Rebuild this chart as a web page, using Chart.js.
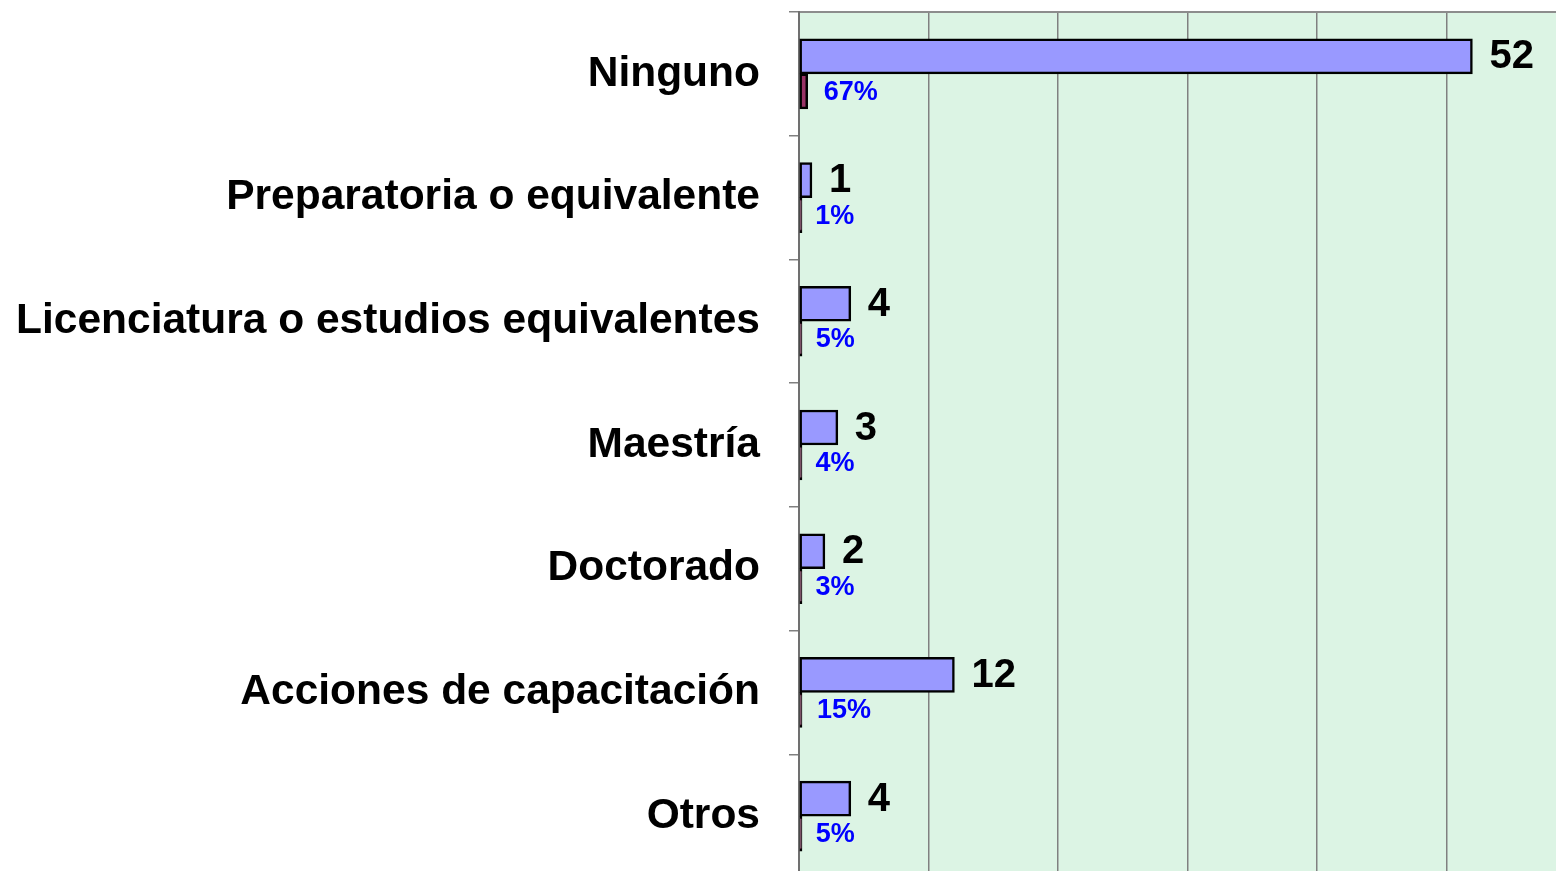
<!DOCTYPE html>
<html>
<head>
<meta charset="utf-8">
<script src="https://cdn.jsdelivr.net/npm/chart.js@4/dist/chart.umd.min.js"></script>
<style>
  html, body { margin: 0; padding: 0; background: #ffffff; overflow: hidden; }
  #wrap { width: 1556px; height: 871px; overflow: hidden; position: relative; }
  canvas { display: block; }
</style>
</head>
<body>
<div id="wrap"><canvas id="c" width="1576" height="878"></canvas></div>
<script>
const categories = [
  "Ninguno",
  "Preparatoria o equivalente",
  "Licenciatura o estudios equivalentes",
  "Maestría",
  "Doctorado",
  "Acciones de capacitación",
  "Otros"
];
const counts = [52, 1, 4, 3, 2, 12, 4];
const shares = [0.67, 0.01, 0.05, 0.04, 0.03, 0.15, 0.05];
const xTicks = [0, 10, 20, 30, 40, 50, 60];

const FONT = "'Liberation Sans', Arial, sans-serif";

const bgPlugin = {
  id: 'plotBg',
  beforeDraw(chart) {
    const { ctx, chartArea: a } = chart;
    ctx.save();
    ctx.fillStyle = '#DCF4E4';
    ctx.fillRect(a.left, a.top, a.right - a.left, a.bottom - a.top);
    ctx.restore();
  }
};

const labelPlugin = {
  id: 'valueLabels',
  afterDatasetsDraw(chart) {
    const ctx = chart.ctx;
    const xs = chart.scales.x;
    ctx.save();
    ctx.textBaseline = 'middle';
    ctx.textAlign = 'left';
    chart.getDatasetMeta(0).data.forEach((bar, i) => {
      ctx.font = 'bold 40px ' + FONT;
      ctx.fillStyle = '#000000';
      ctx.fillText(String(counts[i]), xs.getPixelForValue(counts[i]) + 17, bar.y + 1);
    });
    chart.getDatasetMeta(1).data.forEach((bar, i) => {
      ctx.font = 'bold 27px ' + FONT;
      ctx.fillStyle = '#0000FF';
      ctx.fillText(Math.round(shares[i] * 100) + '%', xs.getPixelForValue(shares[i]) + 16, bar.y + 1);
    });
    ctx.restore();
  }
};

new Chart(document.getElementById('c'), {
  type: 'bar',
  data: {
    labels: categories,
    datasets: [
      {
        data: counts,
        backgroundColor: '#9999FF',
        borderColor: '#000000',
        borderWidth: 2.5,
        borderSkipped: false,
        barThickness: 35
      },
      {
        data: shares,
        backgroundColor: '#993366',
        borderColor: '#000000',
        borderWidth: 2.5,
        borderSkipped: false,
        barThickness: 35,
        minBarLength: 3
      }
    ]
  },
  options: {
    indexAxis: 'y',
    responsive: false,
    animation: false,
    devicePixelRatio: 1,
    layout: { padding: 0 },
    plugins: {
      legend: { display: false },
      tooltip: { enabled: false },
      title: { display: false }
    },
    scales: {
      x: {
        position: 'top',
        min: xTicks[0],
        max: xTicks[xTicks.length - 1],
        afterBuildTicks(scale) { scale.ticks = xTicks.map(v => ({ value: v })); },
        afterFit(scale) {
          scale.height = 12;
          scale.paddingLeft = 0; scale.paddingRight = 0;
          scale.paddingTop = 0; scale.paddingBottom = 0;
        },
        ticks: { display: false },
        grid: { color: '#808080', lineWidth: 1.5, drawTicks: false },
        border: { display: true, color: '#8c8c8c', width: 2 }
      },
      y: {
        afterFit(scale) {
          scale.width = 799;
          scale.paddingTop = 0; scale.paddingBottom = 0;
          scale.paddingLeft = 0; scale.paddingRight = 0;
        },
        ticks: {
          color: '#000000',
          padding: 29,
          font: { family: FONT, size: 42.5, weight: 'bold' }
        },
        grid: { drawOnChartArea: false, drawTicks: true, tickLength: 10, color: '#808080', lineWidth: 1.5, offset: true },
        border: { display: true, color: '#707070', width: 2 }
      }
    }
  },
  plugins: [bgPlugin, labelPlugin]
});
</script>
</body>
</html>
